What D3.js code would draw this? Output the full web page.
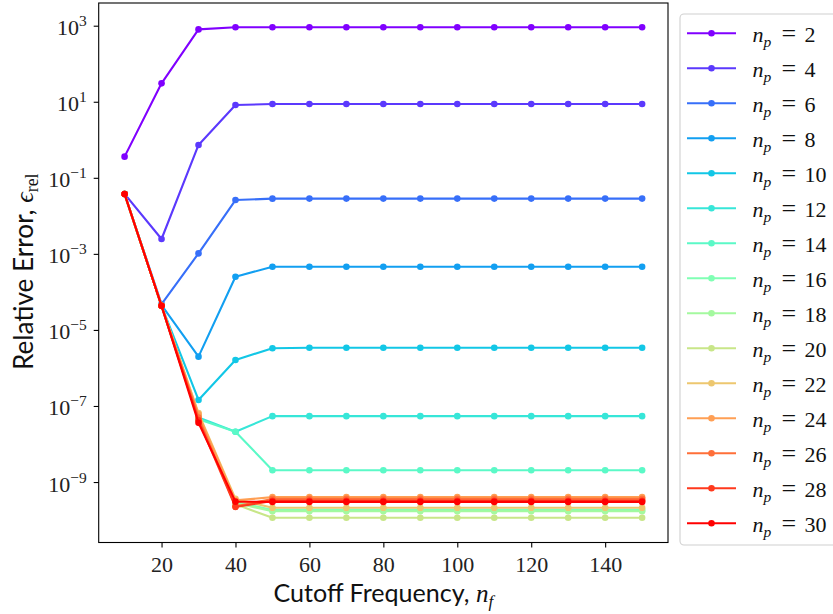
<!DOCTYPE html>
<html><head><meta charset="utf-8">
<script src="https://cdn.jsdelivr.net/npm/d3@7"></script>
<style>body{margin:0;background:#fff} svg{display:block}</style>
</head><body>
<svg id="c" width="833" height="614"></svg>
<script>
// ---------------- DATA ----------------
const nf = [10, 20, 30, 40, 50, 60, 70, 80, 90, 100, 110, 120, 130, 140, 150];
const npValues = [2, 4, 6, 8, 10, 12, 14, 16, 18, 20, 22, 24, 26, 28, 30];

const err_np2  = [0.36, 30.5, 800, 910, 910, 910, 910, 910, 910, 910, 910, 910, 910, 910, 910];
const err_np4  = [0.0376, 0.00246, 0.73, 8.2, 8.7, 8.7, 8.7, 8.7, 8.7, 8.7, 8.7, 8.7, 8.7, 8.7, 8.7];
const err_np6  = [0.0376, 4.8e-5, 1.03e-3, 0.026, 0.0283, 0.0284, 0.0284, 0.0284, 0.0284, 0.0284, 0.0284, 0.0284, 0.0284, 0.0284, 0.0284];
const err_np8  = [0.0376, 4.5e-5, 1.98e-6, 2.5e-4, 4.6e-4, 4.6e-4, 4.6e-4, 4.6e-4, 4.6e-4, 4.6e-4, 4.6e-4, 4.6e-4, 4.6e-4, 4.6e-4, 4.6e-4];
const err_np10 = [0.0376, 4.3e-5, 1.44e-7, 1.62e-6, 3.3e-6, 3.4e-6, 3.4e-6, 3.4e-6, 3.4e-6, 3.4e-6, 3.4e-6, 3.4e-6, 3.4e-6, 3.4e-6, 3.4e-6];
const err_np12 = [0.0376, 4.3e-5, 5.0e-8, 2.1e-8, 5.4e-8, 5.4e-8, 5.4e-8, 5.4e-8, 5.4e-8, 5.4e-8, 5.4e-8, 5.4e-8, 5.4e-8, 5.4e-8, 5.4e-8];
const err_np14 = [0.0376, 4.3e-5, 4.5e-8, 2.1e-8, 2.05e-9, 2.05e-9, 2.05e-9, 2.05e-9, 2.05e-9, 2.05e-9, 2.05e-9, 2.05e-9, 2.05e-9, 2.05e-9, 2.05e-9];
const err_np16 = [0.0376, 4.3e-5, 4.5e-8, 3.0e-10, 1.85e-10, 1.85e-10, 1.85e-10, 1.85e-10, 1.85e-10, 1.85e-10, 1.85e-10, 1.85e-10, 1.85e-10, 1.85e-10, 1.85e-10];
const err_np18 = [0.0376, 4.3e-5, 5.0e-8, 2.8e-10, 1.7e-10, 1.7e-10, 1.7e-10, 1.7e-10, 1.7e-10, 1.7e-10, 1.7e-10, 1.7e-10, 1.7e-10, 1.7e-10, 1.7e-10];
const err_np20 = [0.0376, 4.3e-5, 5.5e-8, 2.6e-10, 1.15e-10, 1.15e-10, 1.15e-10, 1.15e-10, 1.15e-10, 1.15e-10, 1.15e-10, 1.15e-10, 1.15e-10, 1.15e-10, 1.15e-10];
const err_np22 = [0.0376, 4.3e-5, 6.5e-8, 3.6e-10, 2.1e-10, 2.1e-10, 2.1e-10, 2.1e-10, 2.1e-10, 2.1e-10, 2.1e-10, 2.1e-10, 2.1e-10, 2.1e-10, 2.1e-10];
const err_np24 = [0.0376, 4.3e-5, 6.0e-8, 3.3e-10, 4.0e-10, 4.0e-10, 4.0e-10, 4.0e-10, 4.0e-10, 4.0e-10, 4.0e-10, 4.0e-10, 4.0e-10, 4.0e-10, 4.0e-10];
const err_np26 = [0.0376, 4.3e-5, 5.0e-8, 2.3e-10, 3.6e-10, 3.6e-10, 3.6e-10, 3.6e-10, 3.6e-10, 3.6e-10, 3.6e-10, 3.6e-10, 3.6e-10, 3.6e-10, 3.6e-10];
const err_np28 = [0.0376, 4.3e-5, 4.2e-8, 2.2e-10, 3.2e-10, 3.2e-10, 3.2e-10, 3.2e-10, 3.2e-10, 3.2e-10, 3.2e-10, 3.2e-10, 3.2e-10, 3.2e-10, 3.2e-10];
const err_np30 = [0.0376, 4.3e-5, 3.6e-8, 3.05e-10, 3.0e-10, 3.0e-10, 3.0e-10, 3.0e-10, 3.0e-10, 3.0e-10, 3.0e-10, 3.0e-10, 3.0e-10, 3.0e-10, 3.0e-10];

const xTickValues = [20, 40, 60, 80, 100, 120, 140];
const yTickExponents = [3, 1, -1, -3, -5, -7, -9];

const seriesList = [err_np2, err_np4, err_np6, err_np8, err_np10, err_np12, err_np14, err_np16,
                    err_np18, err_np20, err_np22, err_np24, err_np26, err_np28, err_np30];

// ---------------- STYLE / LAYOUT ----------------
const W = 833, H = 614;
const L = 98.7, R = 668, T = 3, B = 542.5;
const serif = "'Liberation Serif', 'DejaVu Serif', serif";
const sans = "Lato, 'Open Sans', 'DejaVu Sans', sans-serif";

function rainbow(t) {
  const r = Math.min(1, Math.abs(2 * t - 0.5));
  const g = Math.max(0, Math.sin(Math.PI * t));
  const b = Math.max(0, Math.cos(Math.PI * t / 2));
  return d3.rgb(Math.round(r * 255), Math.round(g * 255), Math.round(b * 255)).formatHex();
}
const colors = npValues.map((d, i) => rainbow(i / (npValues.length - 1)));

const svg = d3.select("#c");
svg.append("rect").attr("width", W).attr("height", H).attr("fill", "#fff");

const x = d3.scaleLinear().domain([3, 157]).range([L, R]);
const y = d3.scaleLog().domain([Math.pow(10, -10.59), Math.pow(10, 3.597)]).range([B, T]);

svg.append("clipPath").attr("id", "clip").append("rect")
  .attr("x", L).attr("y", T).attr("width", R - L).attr("height", B - T);

const plot = svg.append("g").attr("clip-path", "url(#clip)");
const line = d3.line().x((d, i) => x(nf[i])).y(d => y(d));

seriesList.forEach((s, k) => {
  const g = plot.append("g");
  g.append("path").datum(s).attr("d", line)
    .attr("fill", "none").attr("stroke", colors[k]).attr("stroke-width", 2.1)
    .attr("stroke-linejoin", "round").attr("stroke-linecap", "square");
  g.selectAll("circle").data(s).join("circle")
    .attr("cx", (d, i) => x(nf[i])).attr("cy", d => y(d)).attr("r", 3.3)
    .attr("fill", colors[k]);
});

// frame
svg.append("rect").attr("x", L).attr("y", T).attr("width", R - L).attr("height", B - T)
  .attr("fill", "none").attr("stroke", "#000").attr("stroke-width", 1.1);

// x axis
const xAxis = d3.axisBottom(x).tickValues(xTickValues).tickSize(5).tickPadding(3).tickFormat(d3.format("d"));
const xg = svg.append("g").attr("transform", `translate(0,${B})`).call(xAxis);
xg.select(".domain").remove();
xg.selectAll(".tick line").attr("stroke", "#000").attr("stroke-width", 1.1);
xg.selectAll(".tick text").attr("font-family", serif).attr("font-size", 22).attr("fill", "#222")
  .attr("dy", null).attr("y", 29);

// y axis
const yAxis = d3.axisLeft(y).tickValues(yTickExponents.map(e => Math.pow(10, e))).tickSize(5).tickFormat("");
const yg = svg.append("g").attr("transform", `translate(${L},0)`).call(yAxis);
yg.select(".domain").remove();
yg.selectAll(".tick line").attr("stroke", "#000").attr("stroke-width", 1.1);
yg.selectAll(".tick text").remove();
yg.selectAll(".tick").each(function(d) {
  const e = Math.round(Math.log10(d));
  const t = d3.select(this).append("text")
    .attr("x", -12).attr("y", 9).attr("text-anchor", "end")
    .attr("font-family", serif).attr("font-size", 22).attr("fill", "#222");
  t.append("tspan").text("10");
  t.append("tspan").attr("dy", -9).attr("font-size", 15.5).text(e < 0 ? "\u2212" + (-e) : String(e));
});

function fitWidth(node, target) {
  const w = node.getBBox().width;
  const sc = target / w;
  d3.select(node).selectAll("tspan").each(function() {
    const fs = parseFloat(d3.select(this).attr("font-size") || d3.select(node).attr("font-size"));
    d3.select(this).attr("font-size", fs * sc);
    const dy = d3.select(this).attr("dy");
    if (dy) d3.select(this).attr("dy", parseFloat(dy) * sc);
  });
}

// x label
const xl = svg.append("text").attr("x", (L + R) / 2).attr("y", 601.5).attr("text-anchor", "middle")
  .attr("fill", "#111").attr("font-size", 25);
xl.append("tspan").attr("font-family", sans).text("Cutoff Frequency, ");
xl.append("tspan").attr("font-family", serif).attr("font-style", "italic").text("n");
xl.append("tspan").attr("font-family", serif).attr("font-style", "italic").attr("font-size", 17).attr("dy", 5).text("f");
fitWidth(xl.node(), 222);

// y label
const yl = svg.append("text").attr("transform", `translate(32.5,${(T + B) / 2 - 1}) rotate(-90)`)
  .attr("text-anchor", "middle").attr("fill", "#111").attr("font-size", 25);
yl.append("tspan").attr("font-family", sans).text("Relative Error, ");
yl.append("tspan").attr("font-family", serif).attr("font-style", "italic").text("\u03f5");
yl.append("tspan").attr("font-family", serif).attr("font-size", 17).attr("dy", 5).text("rel");
fitWidth(yl.node(), 197);

// legend
const lg = svg.append("g");
lg.append("rect").attr("x", 680).attr("y", 14).attr("width", 175).attr("height", 531)
  .attr("rx", 4).attr("fill", "#fff").attr("fill-opacity", 0.8)
  .attr("stroke", "#d0d0d0").attr("stroke-width", 1.1);
npValues.forEach((np, i) => {
  const yy = 33.3 + i * 35;
  lg.append("line").attr("x1", 687).attr("x2", 736).attr("y1", yy).attr("y2", yy)
    .attr("stroke", colors[i]).attr("stroke-width", 2.1);
  lg.append("circle").attr("cx", 711.5).attr("cy", yy).attr("r", 3.3).attr("fill", colors[i]);
  const t = lg.append("text").attr("y", yy + 8.3)
    .attr("font-family", serif).attr("font-size", 22).attr("fill", "#111");
  t.append("tspan").attr("x", 752.5).attr("font-style", "italic").text("n");
  t.append("tspan").attr("font-style", "italic").attr("font-size", 15.5).attr("dy", 5).text("p");
  t.append("tspan").attr("x", 781.5).attr("dy", -5).attr("font-size", 26).text("=");
  t.append("tspan").attr("x", 804.5).text(String(np));
});
</script>
</body></html>
